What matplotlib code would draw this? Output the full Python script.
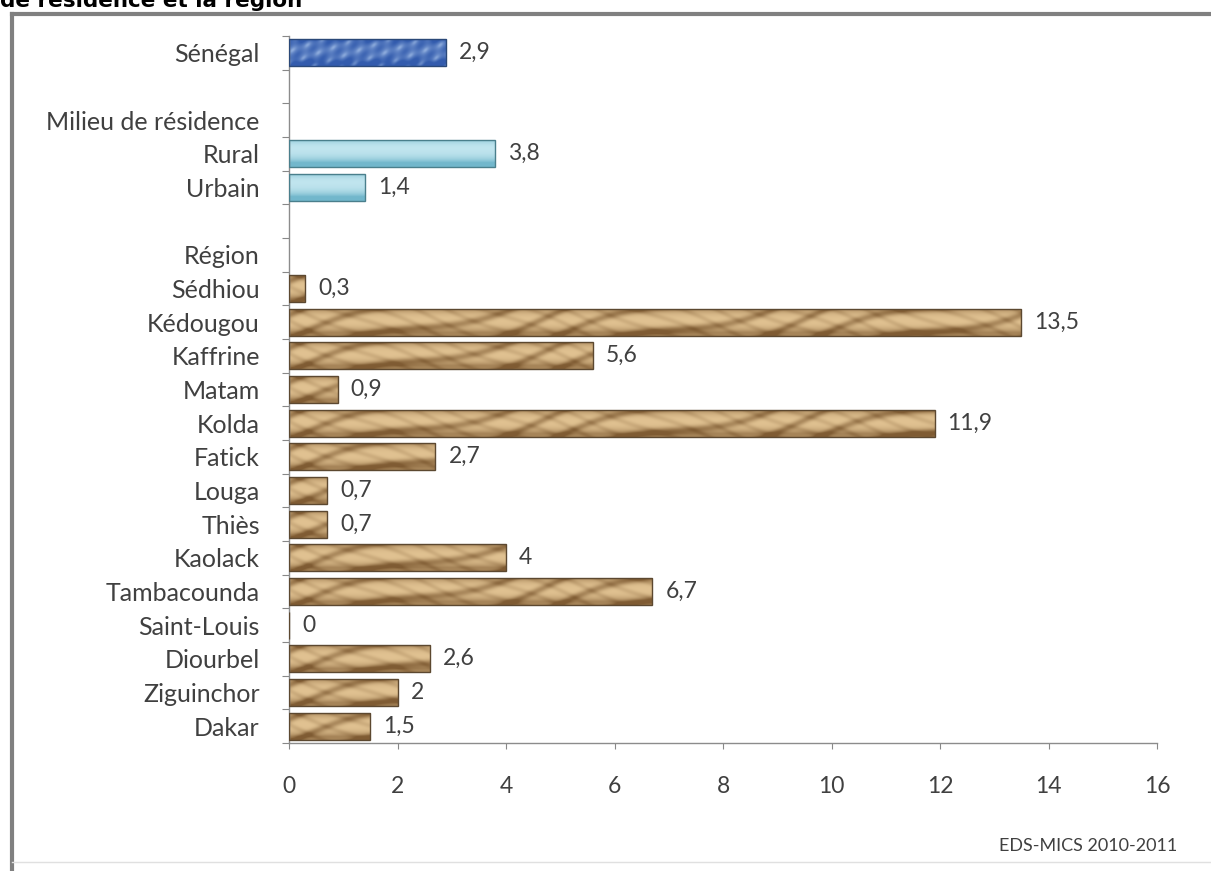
import numpy as np
import matplotlib
matplotlib.use("Agg")
import matplotlib.pyplot as plt
from matplotlib.lines import Line2D

plt.rcParams['font.family'] = ['Lato', 'DejaVu Sans']

# Data (percent)
national_label = "Sénégal"
national_value = 2.9

residence_header = "Milieu de résidence"
residence = ["Rural", "Urbain"]
residence_values = [3.8, 1.4]

region_header = "Région"
regions = ["Sédhiou", "Kédougou", "Kaffrine", "Matam", "Kolda", "Fatick", "Louga",
           "Thiès", "Kaolack", "Tambacounda", "Saint-Louis", "Diourbel", "Ziguinchor", "Dakar"]
region_values = [0.3, 13.5, 5.6, 0.9, 11.9, 2.7, 0.7, 0.7, 4, 6.7, 0, 2.6, 2, 1.5]

x_ticks = [0, 2, 4, 6, 8, 10, 12, 14, 16]
source = "EDS-MICS 2010-2011"
title_tail = "de résidence et la région"

# Rows from top to bottom; None marks header / spacer rows without a bar
rows = ([(national_label, national_value, "nat"), ("", None, None),
         (residence_header, None, None)]
        + [(n, v, "res") for n, v in zip(residence, residence_values)]
        + [("", None, None), (region_header, None, None)]
        + [(n, v, "reg") for n, v in zip(regions, region_values)])
rows = rows[::-1]  # bottom to top for barh
n_rows = len(rows)

W, H = 1211, 871
fig = plt.figure(figsize=(W / 100, H / 100), dpi=100)
ax = fig.add_axes([289 / W, 1 - 743 / H, (1157 - 289) / W, (743 - 36) / H])

TXT = "#404040"
FS_CAT = 18
FS_NUM = 16.5


def fill_texture(kind, w_data, px_per_unit=54.25, h_px=28):
    nx = max(int(w_data * px_per_unit), 2)
    u = np.arange(nx)[None, :].astype(float)
    v = np.linspace(0, 1, h_px)[:, None]
    edge = np.clip((np.abs(v - 0.42) * 2.2) ** 2.5, 0, 1)
    if kind == "reg":
        light = np.array([0.88, 0.76, 0.57])
        dark = np.array([0.50, 0.36, 0.20])
        s = 0.5 + 0.5 * np.sin(u / 14.0 + 7 * v + 2.2 * np.sin(u / 41.0))
        s2 = 0.5 + 0.5 * np.sin(u / 6.0 - 11 * v + np.sin(u / 23.0))
        t = 0.55 * s ** 4 + 0.2 * s2 ** 3 + 0.6 * edge
    elif kind == "nat":
        light = np.array([0.72, 0.82, 0.95])
        dark = np.array([0.20, 0.36, 0.68])
        s = 0.5 + 0.5 * np.sin(u / 3.0 + 9 * v) * np.sin(u / 7.0 - 5 * v)
        t = 0.55 + 0.35 * (1 - s) + 0.3 * edge - 0.25 * s ** 6
    else:
        light = np.array([0.88, 0.97, 0.99])
        dark = np.array([0.45, 0.72, 0.80])
        t = 0.15 + 0.4 * v + 0.6 * edge
    t = np.clip(t, 0, 1)[..., None]
    t = np.broadcast_to(t, (h_px, nx, 1))
    return light * (1 - t) + dark * t


bar_h = 0.8
for i, (name, val, kind) in enumerate(rows):
    if val is None:
        continue
    edge_col = {"reg": "#5c4830", "nat": "#2a4878", "res": "#4a7f8c"}[kind]
    bar = ax.barh(i, val, height=bar_h, color="none", edgecolor=edge_col,
                  linewidth=1.0, zorder=3)[0]
    if val > 0:
        img = fill_texture(kind, val)
        im = ax.imshow(img, extent=(0, val, i - bar_h / 2, i + bar_h / 2),
                       aspect="auto", origin="upper", zorder=2,
                       interpolation="bilinear")
        im.set_clip_path(bar)
    label = f"{val:g}".replace(".", ",")
    ax.annotate(label, (val, i), xytext=(13, 0), textcoords="offset pixels",
                ha="left", va="center", fontsize=FS_NUM, color=TXT)

ax.set_xlim(0, 16)
ax.set_ylim(-0.5, n_rows - 0.5)
ax.set_aspect("auto")

ax.set_yticks(range(n_rows))
ax.set_yticklabels([r[0] for r in rows], fontsize=FS_CAT, color=TXT)
ax.set_yticks(np.arange(n_rows + 1) - 0.5, minor=True)
ax.tick_params(axis="y", which="major", length=0, pad=21)
ax.tick_params(axis="y", which="minor", length=5, width=0.8, color="#888888")

ax.set_xticks(x_ticks)
ax.set_xticklabels([str(t) for t in x_ticks], fontsize=FS_NUM, color=TXT)
ax.tick_params(axis="x", length=4, width=0.8, color="#888888", pad=20)

for side in ("top", "right"):
    ax.spines[side].set_visible(False)
for side in ("left", "bottom"):
    ax.spines[side].set_color("#8c8c8c")
    ax.spines[side].set_linewidth(1.0)

fig.text(1177 / W, 1 - 846 / H, source, ha="right", va="center",
         fontsize=13, color=TXT)

# Chart frame
fig.add_artist(Line2D([12 / W, 12 / W], [1 - 14 / H, 0], color="#808080",
                      lw=3, transform=fig.transFigure))
fig.add_artist(Line2D([12 / W, 1], [1 - 14 / H, 1 - 14 / H], color="#808080",
                      lw=3, transform=fig.transFigure))
fig.add_artist(Line2D([12 / W, 1], [1 - 862 / H, 1 - 862 / H], color="#e0e0e0",
                      lw=1, transform=fig.transFigure))

# Title (continuation line from above)
fig.text(0, 1 - 7 / H, title_tail, ha="left", va="baseline", fontsize=15.5,
         fontweight="bold", family="DejaVu Sans", color="black")

fig.savefig("out.png", dpi=100)
